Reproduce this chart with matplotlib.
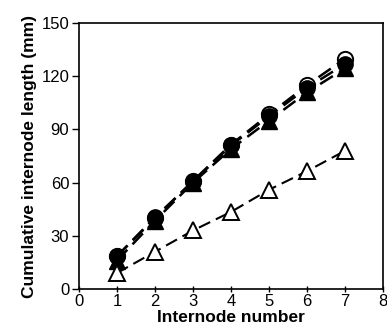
import numpy as np
import matplotlib
matplotlib.use("Agg")
import matplotlib.pyplot as plt

plt.rcParams['font.family'] = ['Liberation Sans', 'DejaVu Sans']

# internode number
x = [1, 2, 3, 4, 5, 6, 7]

# cumulative internode length (mm)
open_circle = [18.5, 40, 61, 81.5, 98.5, 115, 130]
filled_circle = [18.5, 40.5, 60.5, 81, 97.5, 113.5, 127]
filled_triangle = [16, 38.5, 60, 79, 95, 111, 124.5]
open_triangle = [9, 21, 33, 43.5, 56, 66.5, 78]

fig = plt.figure(figsize=(3.87, 3.31), dpi=100)
ax = fig.add_axes([0.204, 0.127, 0.786, 0.803])

dash = (0, (6, 3))
ax.plot(x, open_circle, color='black', lw=1.8, linestyle=dash,
        marker='o', ms=11, mfc='white', mec='black', mew=1.4)
ax.plot(x, filled_triangle, color='black', lw=1.8, linestyle=dash,
        marker='^', ms=11, mfc='black', mec='black')
ax.plot(x, filled_circle, color='black', lw=1.8, linestyle=dash,
        marker='o', ms=11, mfc='black', mec='black')
ax.plot(x, open_triangle, color='black', lw=1.5, linestyle=dash,
        marker='^', ms=11, mfc='white', mec='black', mew=1.4)

ax.set_xlim(0, 8)
ax.set_ylim(0, 150)
ax.set_xticks(range(0, 9))
ax.set_yticks([0, 30, 60, 90, 120, 150])
ax.tick_params(axis='both', labelsize=12, width=1, length=5)
ax.tick_params(axis='x', direction='inout', pad=1)
ax.tick_params(axis='y', direction='out', pad=2)
for s in ax.spines.values():
    s.set_linewidth(1.2)

ax.set_xlabel('Internode number', fontsize=12.5, fontweight='bold', labelpad=1)
ax.set_ylabel('Cumulative internode length (mm)', fontsize=12.5, fontweight='bold', labelpad=3)

fig.savefig('out.png', dpi=100)
